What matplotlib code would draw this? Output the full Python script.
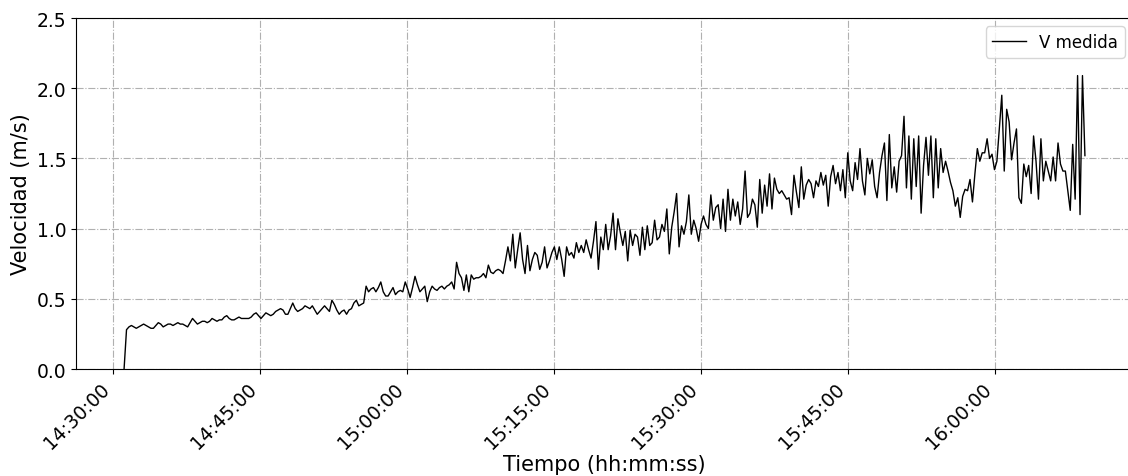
import numpy as np
import pandas as pd
import matplotlib
matplotlib.use("Agg")
import matplotlib.pyplot as plt
import matplotlib.dates as mdates

# velocity readings (m/s), grouped by quarter hour
v_1430 = [0.00, 0.28, 0.30, 0.31, 0.30, 0.29, 0.30, 0.31, 0.32, 0.31, 0.30, 0.29,
          0.29, 0.31, 0.33, 0.32, 0.30, 0.31, 0.32, 0.32, 0.31, 0.32, 0.33, 0.32, 0.32, 0.31, 0.30, 0.33, 0.36, 0.34, 0.32, 0.33,
          0.34, 0.34, 0.33, 0.34, 0.36, 0.35, 0.34, 0.35, 0.35, 0.37, 0.38, 0.36, 0.35, 0.35, 0.36, 0.37, 0.36, 0.36, 0.36, 0.36]
v_1445 = [0.37, 0.39, 0.40, 0.38, 0.36, 0.38, 0.40, 0.39, 0.38, 0.39, 0.41, 0.42, 0.43, 0.42, 0.39, 0.39, 0.43, 0.47, 0.43, 0.41,
          0.42, 0.43, 0.45, 0.44, 0.43, 0.45, 0.42, 0.39, 0.41, 0.43, 0.45, 0.43, 0.41, 0.49, 0.46, 0.42, 0.39, 0.41, 0.42, 0.39,
          0.42, 0.43, 0.47, 0.49, 0.45, 0.46, 0.47, 0.59, 0.55, 0.57, 0.58, 0.55, 0.58, 0.62, 0.55, 0.52, 0.52, 0.55, 0.58, 0.53]
v_1500 = [0.55, 0.56, 0.55, 0.62, 0.57, 0.51, 0.58, 0.66, 0.60, 0.55, 0.57, 0.59, 0.48, 0.55, 0.59, 0.57, 0.56, 0.58, 0.59, 0.57,
          0.59, 0.60, 0.62, 0.57, 0.76, 0.68, 0.65, 0.56, 0.67, 0.55, 0.67, 0.64, 0.65, 0.65, 0.66, 0.68, 0.65, 0.74, 0.69, 0.68,
          0.70, 0.71, 0.70, 0.68, 0.77, 0.87, 0.77, 0.96, 0.72, 0.85, 0.97, 0.78, 0.68, 0.88, 0.70, 0.78, 0.83, 0.81, 0.71, 0.76]
v_1515 = [0.87, 0.72, 0.77, 0.83, 0.87, 0.78, 0.87, 0.78, 0.66, 0.87, 0.81, 0.83, 0.79, 0.90, 0.83, 0.88, 0.83, 0.92, 0.85, 0.79,
          0.91, 1.05, 0.71, 0.94, 0.85, 1.03, 0.85, 0.95, 1.11, 0.85, 1.07, 0.97, 0.88, 0.98, 0.77, 0.99, 0.88, 0.96, 0.94, 0.81,
          1.01, 0.85, 1.02, 0.88, 0.90, 1.06, 0.92, 0.94, 1.03, 0.98, 1.14, 0.82, 1.01, 1.12, 1.25, 0.87, 1.02, 0.96, 1.05, 1.24]
v_1530 = [0.96, 1.06, 1.00, 0.91, 1.03, 1.09, 1.03, 1.00, 1.24, 1.06, 1.15, 1.17, 1.00, 1.21, 0.98, 1.28, 1.06, 1.21, 1.09, 1.19,
          1.03, 1.14, 1.41, 1.08, 1.11, 1.21, 1.17, 1.01, 1.35, 1.11, 1.31, 1.16, 1.39, 1.14, 1.36, 1.28, 1.25, 1.27, 1.24, 1.21,
          1.22, 1.10, 1.38, 1.26, 1.15, 1.44, 1.21, 1.31, 1.35, 1.32, 1.22, 1.34, 1.30, 1.40, 1.31, 1.38, 1.16, 1.37, 1.45, 1.32]
v_1545 = [1.40, 1.27, 1.42, 1.22, 1.54, 1.34, 1.27, 1.47, 1.35, 1.57, 1.34, 1.24, 1.50, 1.39, 1.49, 1.30, 1.22, 1.40, 1.52, 1.61,
          1.20, 1.67, 1.29, 1.44, 1.26, 1.48, 1.52, 1.80, 1.29, 1.66, 1.21, 1.64, 1.30, 1.66, 1.11, 1.45, 1.65, 1.38, 1.66, 1.22,
          1.64, 1.29, 1.57, 1.40, 1.48, 1.41, 1.33, 1.27, 1.16, 1.22, 1.08, 1.23, 1.28, 1.27, 1.35, 1.19, 1.39, 1.57, 1.48, 1.54]
v_1600 = [1.54, 1.64, 1.50, 1.53, 1.42, 1.48, 1.72, 1.95, 1.41, 1.85, 1.76, 1.49, 1.61, 1.71, 1.22, 1.18, 1.46, 1.37, 1.45, 1.25,
          1.66, 1.48, 1.21, 1.64, 1.34, 1.48, 1.41, 1.34, 1.51, 1.34, 1.61, 1.46, 1.41, 1.41, 1.27, 1.13, 1.60, 1.21, 2.09, 1.10,
          2.09, 1.52]

t_start = "2023-01-01 14:31:07"
t_end = "2023-01-01 16:09:11"

v = np.array(v_1430 + v_1445 + v_1500 + v_1515 + v_1530 + v_1545 + v_1600)
t = pd.date_range(t_start, t_end, periods=len(v))

fig = plt.figure(figsize=(11.28, 4.77), dpi=100)
ax = fig.add_axes([0.0674, 0.2243, 0.9370, 0.7358])

ax.plot(t, v, color="black", linewidth=1.0, label="V medida")

ax.set_ylim(0, 2.5)
ax.set_yticks([0.0, 0.5, 1.0, 1.5, 2.0, 2.5])
ax.xaxis.set_major_locator(mdates.MinuteLocator(byminute=[0, 15, 30, 45]))
ax.xaxis.set_major_formatter(mdates.DateFormatter("%H:%M:%S"))
plt.setp(ax.get_xticklabels(), rotation=45, ha="right")
ax.tick_params(labelsize=13.5)

ax.grid(True, linestyle="-.", color="#b0b0b0", linewidth=0.8)
ax.set_axisbelow(True)

ax.set_xlabel("Tiempo (hh:mm:ss)", fontsize=15)
ax.xaxis.set_label_coords(0.5, -0.243)
ax.set_ylabel("Velocidad (m/s)", fontsize=15)
ax.legend(loc="upper right", fontsize=12)

fig.savefig("out.png", dpi=100)
